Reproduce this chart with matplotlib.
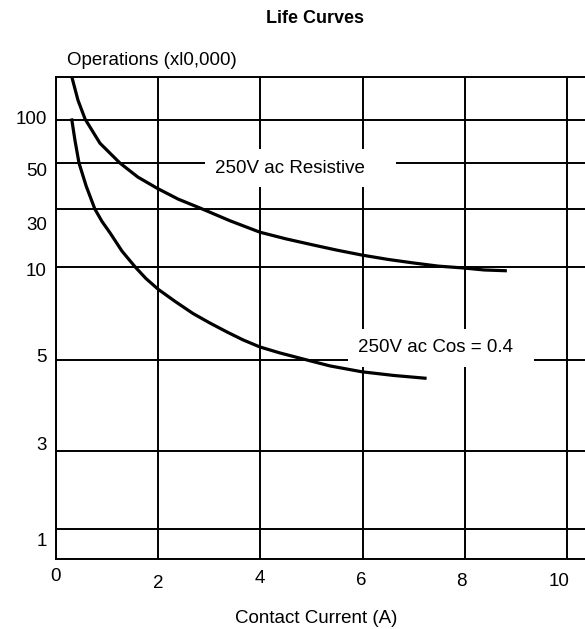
import numpy as np
import matplotlib
matplotlib.use('Agg')
import matplotlib.pyplot as plt
from matplotlib.transforms import ScaledTranslation

# curve data: contact current (A) vs operations (x10,000)
current_resistive = [0.31, 0.43, 0.57, 0.86, 1.25, 1.60, 1.98, 2.39, 2.82, 3.41, 3.99,
                     4.50, 5.03, 5.50, 5.99, 6.50, 6.99, 7.48, 7.96, 8.38, 8.79]
ops_resistive = [200, 146, 102, 73, 50, 43.9, 39, 34.3, 30.4, 25.9, 22,
                 19.7, 17.6, 15.8, 14.1, 12.6, 11.4, 10.3, 9.95, 9.84, 9.8]

current_cos = [0.31, 0.37, 0.45, 0.59, 0.76, 0.90, 1.06, 1.29, 1.55, 1.76, 2.0, 2.33,
               2.68, 3.01, 3.35, 3.66, 3.99, 4.38, 4.77, 5.36, 5.99, 6.61, 7.22]
ops_cos = [100, 76.7, 50, 40, 30, 25.7, 21.7, 15.5, 10, 9.38, 8.8, 8.15,
           7.5, 6.99, 6.5, 6.08, 5.7, 5.38, 5.1, 4.87, 4.74, 4.66, 4.6]

x_ticks = [0, 2, 4, 6, 8, 10]
y_ticks = [1, 3, 5, 10, 30, 50, 100]

# the printed y axis is not a true log scale, so map values to heights piecewise
scale_vals = [0, 1, 3, 5, 10, 30, 50, 100, 200]
scale_pos = [0, 30, 108, 199, 292, 350, 396, 439, 482]


def fwd(v):
    return np.interp(v, scale_vals, scale_pos)


def inv(p):
    return np.interp(p, scale_pos, scale_vals)


plt.rcParams['font.family'] = ['Liberation Sans', 'DejaVu Sans']
FS = 13.5

fig = plt.figure(figsize=(5.85, 6.29), dpi=100)
ax = fig.add_axes([56 / 585, 1 - 559 / 629, (585 - 56) / 585, (559 - 77) / 629])

ax.set_yscale('function', functions=(fwd, inv))
ax.set_xlim(0, 10.35)
ax.set_ylim(0, 200)
ax.set_xticks(x_ticks)
ax.set_yticks(y_ticks)
ax.set_xticklabels([str(t) for t in x_ticks])
ax.set_yticklabels([str(t) for t in y_ticks])
ax.minorticks_off()
ax.tick_params(axis='x', length=0, pad=9.4, labelsize=FS)
ax.tick_params(axis='y', length=0, pad=6.5, labelsize=FS)

ax.grid(True, color='black', linewidth=1.4)
ax.set_axisbelow(True)
for side in ['left', 'top', 'bottom']:
    ax.spines[side].set_linewidth(1.4)
ax.spines['right'].set_visible(False)

ax.plot(current_resistive, ops_resistive, color='black', linewidth=2.3,
        solid_joinstyle='round', zorder=2)
ax.plot(current_cos, ops_cos, color='black', linewidth=2.3,
        solid_joinstyle='round', zorder=2)

box = dict(boxstyle='square,pad=0.55', fc='white', ec='none')
ax.text(3.11, 47.7, '250V ac Resistive    ', ha='left', va='center', fontsize=FS,
        bbox=box, zorder=3)
ax.text(5.91, 5.65, '250V ac Cos = 0.4  ', ha='left', va='center', fontsize=FS,
        bbox=box, zorder=3)

# hand-drawn original has the labels a little off their grid lines
x_shift = [(-1, -4), (0, 3), (-1, -2), (-1, 0), (-4, 1), (-8, 1)]
y_shift = [10, -8, -5, 3, 15, 6, -2]
for lab, (dx, dy) in zip(ax.get_xticklabels(), x_shift):
    lab.set_transform(lab.get_transform() + ScaledTranslation(dx / 100, -dy / 100, fig.dpi_scale_trans))
for lab, dy in zip(ax.get_yticklabels(), y_shift):
    lab.set_transform(lab.get_transform() + ScaledTranslation(0, -dy / 100, fig.dpi_scale_trans))

fig.text(315 / 585, 1 - 23 / 629, 'Life Curves', ha='center', va='baseline',
         fontsize=13, fontweight='bold')
fig.text(67 / 585, 1 - 65 / 629, 'Operations (xl0,000)', ha='left', va='baseline', fontsize=FS)
fig.text(316 / 585, 1 - 623 / 629, 'Contact Current (A)', ha='center', va='baseline', fontsize=FS)

fig.savefig('out.png', dpi=100)
